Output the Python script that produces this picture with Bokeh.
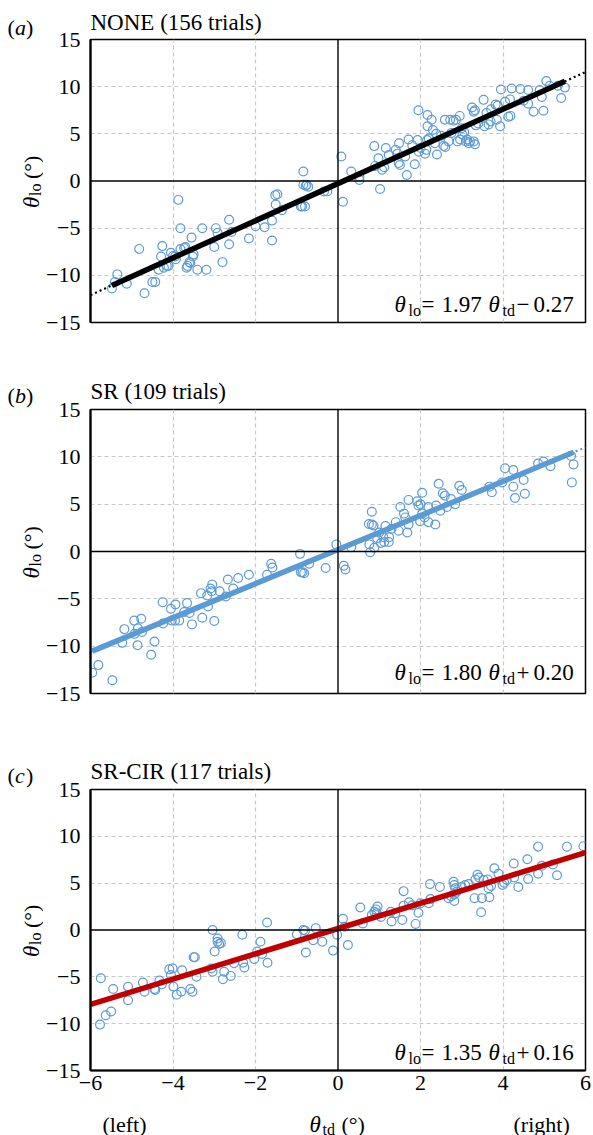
import math
from bokeh.plotting import figure
from bokeh.models import Range1d, FixedTicker, Span, Label
from bokeh.layouts import column, row
from bokeh.embed import file_html
from bokeh.resources import INLINE

# ---------------- data ----------------
panel_letters = ["a", "b", "c"]
panel_titles = ["NONE (156 trials)", "SR (109 trials)", "SR-CIR (117 trials)"]
slopes = [1.97, 1.80, 1.35]
intercepts = [-0.27, 0.20, 0.16]
eq_numbers = ["1.97", "1.80", "1.35"]
eq_signs = ["\u2212", "+", "+"]
eq_consts = ["0.27", "0.20", "0.16"]
x_ticks = [-6, -4, -2, 0, 2, 4, 6]
y_ticks = [-15, -10, -5, 0, 5, 10, 15]

none_x = [-5.48, -5.35, -5.41, -5.12, -4.82, -4.69, -4.5, -4.43, -4.29, -4.26, -4.35, -4.22, -4.15, -4.11,
          -4.0, -3.93, -3.87, -3.82, -3.82, -3.73, -3.7, -3.65, -3.67, -3.6, -3.58, -3.55, -3.52, -3.5, -3.41,
          -3.29, -3.19, -3.0, -2.96, -2.92, -2.8, -2.64, -2.64, -2.58, -2.16, -2.0, -1.78, -1.6, -1.6, -1.52,
          -1.47, -1.51, -1.36, -0.9, -0.87, -0.8, -0.84, -0.76, -0.34, -0.26, 0.12, 1.02, 0.52, -0.84, -0.78,
          -0.72, 0.08, 0.32, 0.52, 0.88, 0.98, 1.07, 1.12, 1.16, 1.23, 1.4, 1.44, 1.48, 1.47, 1.5, 1.63, 1.67,
          1.71, 1.86, 1.93, 1.95, 1.96, 2.11, 2.14, 2.16, 2.2, 2.17, 2.17, 2.27, 2.35, 2.38, 2.4, 2.56, 2.6,
          2.59, 2.68, 2.75, 2.72, 2.8, 2.86, 2.9, 2.96, 2.95, 3.02, 3.06, 3.1, 3.13, 3.17, 3.2, 3.25, 3.29,
          3.32, 3.29, 3.32, 3.34, 3.53, 3.55, 3.65, 3.7, 3.71, 3.82, 3.87, 3.85, 3.93, 3.95, 4.05, 4.13, 4.18,
          4.17, 4.21, 4.42, 4.61, 4.61, 4.74, 4.89, 4.94, 4.98, 5.05, 5.13, 5.33, 5.41, 5.5,
          2.3, 3.0, 1.8, -4.05, 3.4, 2.5, -3.95, 0.9, 3.6, 4.5, 2.0]
none_y = [-11.4, -9.9, -10.7, -10.9, -7.2, -11.9, -10.7, -10.7, -8.0, -6.9, -9.4, -9.2, -9.0, -9.0,
          -7.95, -8.3, -2.0, -5.0, -7.2, -7.1, -7.0, -9.0, -9.2, -8.6, -8.7, -6.0, -8.0, -7.8, -9.4,
          -5.0, -9.4, -7.0, -5.0, -5.5, -8.6, -4.1, -6.7, -5.4, -6.1, -4.8, -4.9, -4.2, -6.3, -1.5,
          -1.4, -2.5, -3.1, -2.7, -2.7, -2.7, -0.4, -0.4, -1.1, -1.1, -2.2, -0.85, 0.1, 1.0, -0.5,
          -0.6, 2.6, 1.0, 0.45, 3.7, 2.4, 1.2, 1.45, 3.5, 2.75, 3.3, 2.9, 4.0, 1.9, 1.7, 2.6, 0.64,
          4.4, 1.77, 4.35, 7.5, 3.1, 2.9, 3.3, 4.35, 4.5, 7.0, 5.8, 6.5, 4.0, 5.0, 2.8, 3.7, 3.6,
          6.5, 4.2, 5.1, 6.5, 6.4, 6.5, 4.2, 4.4, 6.9, 4.9, 5.2, 4.2, 4.4, 4.0, 4.2, 7.8, 7.35,
          7.5, 4.2, 3.9, 5.9, 8.6, 5.8, 6.0, 6.3, 7.6, 8.1, 8.0, 6.5, 5.8, 9.7, 8.4, 6.8, 6.9,
          8.65, 9.8, 9.75, 9.65, 8.2, 7.35, 9.65, 8.9, 7.45, 10.6, 10.1, 10.1, 8.8, 9.9,
          5.4, 5.6, 3.8, -7.6, 6.1, 4.8, -8.0, 1.6, 7.2, 8.5, 3.5]

sr_x = [-5.96, -5.81, -5.47, -5.23, -5.18, -4.94, -4.93, -4.86, -4.85, -4.77, -4.75, -4.53, -4.45, -4.25,
        -4.24, -4.05, -4.03, -3.95, -3.85, -3.94, -3.73, -3.66, -3.54, -3.32, -3.29, -3.17, -3.15, -3.09,
        -3.05, -3.06, -3.0, -2.87, -2.72, -2.67, -2.54, -2.42, -2.16, -1.72, -1.62, -1.59, -0.92, -0.9,
        -0.86, -0.82, -0.7, -0.3, -0.04, 0.14, 0.18, 0.32, 0.76, 0.78, 0.88, 1.04, 1.12, 1.23, 0.75, 0.82,
        0.86, 0.82, 1.15, 1.1, 1.24, 1.4, 1.47, 1.51, 1.6, 1.63, 1.68, 1.71, 1.71, 1.92, 1.95, 2.0, 1.99,
        2.04, 2.04, 2.19, 2.19, 2.36, 2.38, 2.44, 2.48, 2.54, 2.59, 2.64, 2.74, 2.84, 2.94, 3.0, 3.67,
        3.73, 3.98, 4.05, 4.25, 4.25, 4.29, 4.5, 4.53, 4.85, 4.98, 5.15, 5.65, 5.71, 5.67,
        1.0, 2.1, -3.6, 1.3, 0.95]
sr_y = [-12.8, -12.0, -13.6, -9.65, -8.2, -7.3, -8.7, -9.9, -8.1, -7.1, -8.5, -10.9, -9.5, -5.35,
        -7.6, -6.05, -7.3, -7.3, -7.3, -5.6, -6.4, -5.45, -7.7, -4.4, -7.0, -4.65, -5.8, -3.9,
        -3.5, -4.2, -7.35, -4.2, -4.75, -2.95, -3.9, -2.8, -2.45, -2.45, -1.3, -1.7, -0.25, -2.2,
        -2.2, -2.3, -1.3, -1.75, 0.75, -1.5, -1.9, 0.45, 0.75, -0.07, 0.4, 0.9, 1.0, 1.0, 2.9, 2.85,
        2.75, 4.2, 2.7, 1.5, 1.5, 3.1, 2.2, 4.7, 4.0, 3.6, 2.0, 5.45, 2.85, 5.3, 4.85, 5.0, 3.2,
        6.2, 4.0, 4.7, 3.1, 2.85, 4.85, 7.15, 4.3, 6.15, 5.9, 4.7, 5.55, 5.0, 6.95, 6.5, 6.85,
        6.25, 7.3, 8.8, 8.6, 6.85, 5.65, 7.55, 6.1, 9.3, 9.5, 9.0, 10.1, 9.2, 7.3,
        2.0, 3.6, -6.5, 2.4, 1.4]

cir_x = [-5.75, -5.77, -5.63, -5.5, -5.45, -5.09, -5.09, -4.73, -4.69, -4.45, -4.43, -4.33, -4.27, -4.09,
         -4.01, -4.05, -3.99, -3.91, -3.8, -3.78, -3.58, -3.53, -3.5, -3.47, -3.43, -3.07, -3.04, -2.99,
         -2.92, -2.88, -2.84, -2.79, -2.76, -2.6, -2.52, -2.3, -2.27, -2.03, -1.96, -1.84, -1.88, -1.71,
         -3.04, -2.92, -2.32, -1.72, -1.0, -0.84, -0.78, -0.6, -0.38, -0.12, 0.24, -0.8, -0.54, -0.02,
         0.12, 0.16, 0.54, 0.6, 0.82, 0.88, 0.92, 0.96, 0.94, 1.04, 1.28, 1.3, 1.39, 1.56, 1.59, 1.59,
         1.72, 1.8, 1.88, 1.95, 2.0, 2.2, 2.24, 2.23, 2.47, 2.68, 2.74, 2.8, 2.82, 2.84, 2.82, 2.82, 2.88,
         3.0, 3.08, 3.17, 3.31, 3.33, 3.38, 3.42, 3.47, 3.49, 3.53, 3.63, 3.65, 3.71, 3.67, 3.79, 3.89,
         3.99, 4.03, 4.09, 4.26, 4.27, 4.37, 4.59, 4.61, 4.85, 4.85, 4.94, 5.21, 5.31, 5.55, 5.95]
cir_y = [-5.15, -10.1, -9.1, -8.7, -6.3, -6.05, -7.5, -5.6, -6.6, -6.3, -6.4, -5.4, -5.8, -4.2,
         -4.1, -4.8, -6.05, -6.9, -6.6, -4.3, -6.3, -6.6, -2.9, -2.9, -5.0, -4.1, -4.45, -2.3,
         -1.25, -1.5, -1.4, -5.25, -4.45, -4.9, -3.55, -3.5, -4.0, -3.1, -2.3, -2.55, -1.25, -3.5,
         0.0, -0.9, -0.5, 0.8, -0.45, 0.0, -2.4, -1.1, -1.25, -2.2, -1.6, -0.07, 0.2, -0.5,
         1.2, 0.35, 2.4, 0.7, 1.6, 1.95, 2.2, 2.5, 1.8, 1.4, 1.95, 0.9, 1.8, 1.07, 4.15, 2.6,
         2.95, 2.65, 0.65, 1.85, 2.85, 2.85, 3.3, 4.9, 4.6, 3.4, 3.6, 5.15, 4.8, 4.45, 3.1, 3.8, 4.1,
         4.6, 4.8, 4.9, 3.4, 5.4, 5.9, 5.6, 1.9, 3.4, 5.35, 5.4, 4.45, 4.7, 3.5, 6.6, 6.0,
         4.8, 5.05, 5.35, 7.1, 5.6, 4.6, 7.55, 5.45, 8.9, 6.0, 6.85, 7.0, 5.85, 8.9, 8.95]

xs_all = [none_x, sr_x, cir_x]
ys_all = [none_y, sr_y, cir_y]

# ---------------- styling / layout ----------------
FONT = "Liberation Serif"
MARKER_COLOR = "#5b9bd5"
line_colors = ["black", "#5b9bd5", "#c00000"]
solid_full = [False, False, True]
row_heights = [370, 380, 350]
frame_tops = [39, 39, 39]
frame_heights = [283, 284, 281]
letter_baselines = [27, 25, 25]
title_standoffs = [10, 12, 12]
eq_dy = [18, 21, 18]
YLAB_W = 43
MAIN_W = 550
FULL_W = YLAB_W + MAIN_W
XLAB_H = 35
MINUS = "\u2212"


def fmt(v):
    return (MINUS + str(abs(v))) if v < 0 else str(v)


def text_fig(w, h):
    f = figure(width=w, height=h, x_range=Range1d(0, w), y_range=Range1d(h, 0),
               x_axis_type=None, y_axis_type=None, output_backend="svg",
               toolbar_location=None, min_border=0, frame_align=False)
    f.outline_line_color = None
    f.background_fill_color = "white"
    f.border_fill_color = "white"
    return f


def txt(f, s, x, y, size=22, style="normal", angle=0.0):
    f.add_layout(Label(x=x, y=y, text=s, text_font=FONT, text_font_size=f"{size}px",
                       text_font_style=style, text_color="black", angle=angle,
                       text_align="left", text_baseline="alphabetic"))


def lab(p, s, dx, dy, size=23, style="normal"):
    p.add_layout(Label(x=-6, y=-15, x_offset=dx, y_offset=dy, text=s,
                       text_font=FONT, text_font_size=f"{size}px", text_font_style=style,
                       text_color="black", text_align="left", text_baseline="alphabetic"))


children = []
for i in range(3):
    last = (i == 2)
    fh = frame_heights[i]
    ft = frame_tops[i]
    rh = row_heights[i]

    # ---- left strip: panel letter + y label ----
    yf = text_fig(YLAB_W, rh)
    lb = letter_baselines[i]
    txt(yf, "(", 7, lb)
    txt(yf, panel_letters[i], 14.5, lb, style="italic")
    txt(yf, ")", 25.5, lb)
    cy = ft + fh / 2
    a90 = math.pi / 2
    txt(yf, "\u03b8", 31, cy + 27, size=23, style="italic", angle=a90)
    txt(yf, "lo", 35, cy + 15, size=16, angle=a90)
    txt(yf, "(\u00b0)", 31, cy - 2, angle=a90)

    # ---- main plot ----
    p = figure(width=MAIN_W, height=rh, title=panel_titles[i],
               x_range=Range1d(-6, 6), y_range=Range1d(-15, 15),
               output_backend="svg", toolbar_location=None, frame_align=False,
               min_border_left=43, min_border_right=8,
               min_border_top=ft, min_border_bottom=rh - ft - fh)
    p.title.align = "left"
    p.title.text_font = FONT
    p.title.text_font_size = "23px"
    p.title.text_font_style = "normal"
    p.title.text_color = "black"
    p.title.standoff = title_standoffs[i]
    p.title.offset = 0

    p.background_fill_color = "white"
    p.border_fill_color = "white"
    p.outline_line_color = "black"
    p.outline_line_width = 1.5

    p.yaxis.ticker = FixedTicker(ticks=y_ticks)
    p.yaxis.major_label_overrides = {t: fmt(t) for t in y_ticks}
    p.xaxis.ticker = FixedTicker(ticks=x_ticks)
    p.xaxis.major_label_overrides = {t: fmt(t) for t in x_ticks}
    for ax in (p.xaxis[0], p.yaxis[0]):
        ax.major_tick_out = 0
        ax.major_tick_in = 0
        ax.minor_tick_out = 0
        ax.minor_tick_in = 0
        ax.axis_line_width = 2.2
        ax.axis_line_color = "black"
        ax.major_label_text_font = FONT
        ax.major_label_text_font_size = "22px"
        ax.major_label_text_color = "black"
    p.yaxis.major_label_standoff = 10
    p.xaxis.major_label_standoff = 5
    if not last:
        p.xaxis.visible = False

    p.xgrid.ticker = FixedTicker(ticks=[-4, -2, 2, 4])
    p.ygrid.ticker = FixedTicker(ticks=[-10, -5, 5, 10])
    for g in (p.xgrid[0], p.ygrid[0]):
        g.grid_line_color = "#c8c8c8"
        g.grid_line_dash = "4 3"
        g.grid_line_width = 1.2

    p.add_layout(Span(location=0, dimension="width", line_color="black", line_width=1.4))
    p.add_layout(Span(location=0, dimension="height", line_color="black", line_width=1.4))

    x = xs_all[i]
    y = ys_all[i]
    p.scatter(x, y, marker="circle", size=8.8, fill_color=None,
              line_color=MARKER_COLOR, line_width=1.2)

    m, c = slopes[i], intercepts[i]
    x0, x1 = (-6, 6) if solid_full[i] else (min(x), max(x))
    p.line([-6, 6], [m * -6 + c, m * 6 + c], line_color=line_colors[i],
           line_width=2.2, line_dash="2 3")
    p.line([x0, x1], [m * x0 + c, m * x1 + c], line_color=line_colors[i], line_width=5.5)

    dy = eq_dy[i]
    lab(p, "\u03b8", 304, dy, style="italic")
    lab(p, "lo", 318, dy - 6, size=16)
    lab(p, "=", 331, dy)
    lab(p, eq_numbers[i], 351, dy)
    lab(p, "\u03b8", 398, dy, style="italic")
    lab(p, "td", 412, dy - 6, size=16)
    lab(p, eq_signs[i], 426, dy)
    lab(p, eq_consts[i], 443, dy)

    children.append(row(yf, p))

# ---- x label ----
xf = text_fig(FULL_W, XLAB_H)
txt(xf, "(left)", 102, 24)
txt(xf, "\u03b8", 309, 24, size=23, style="italic")
txt(xf, "td", 322, 29, size=16)
txt(xf, "(\u00b0)", 341, 24)
txt(xf, "(right)", 513, 24)
children.append(xf)

layout = column(*children)
open("out.html", "w").write(file_html(layout, INLINE))
